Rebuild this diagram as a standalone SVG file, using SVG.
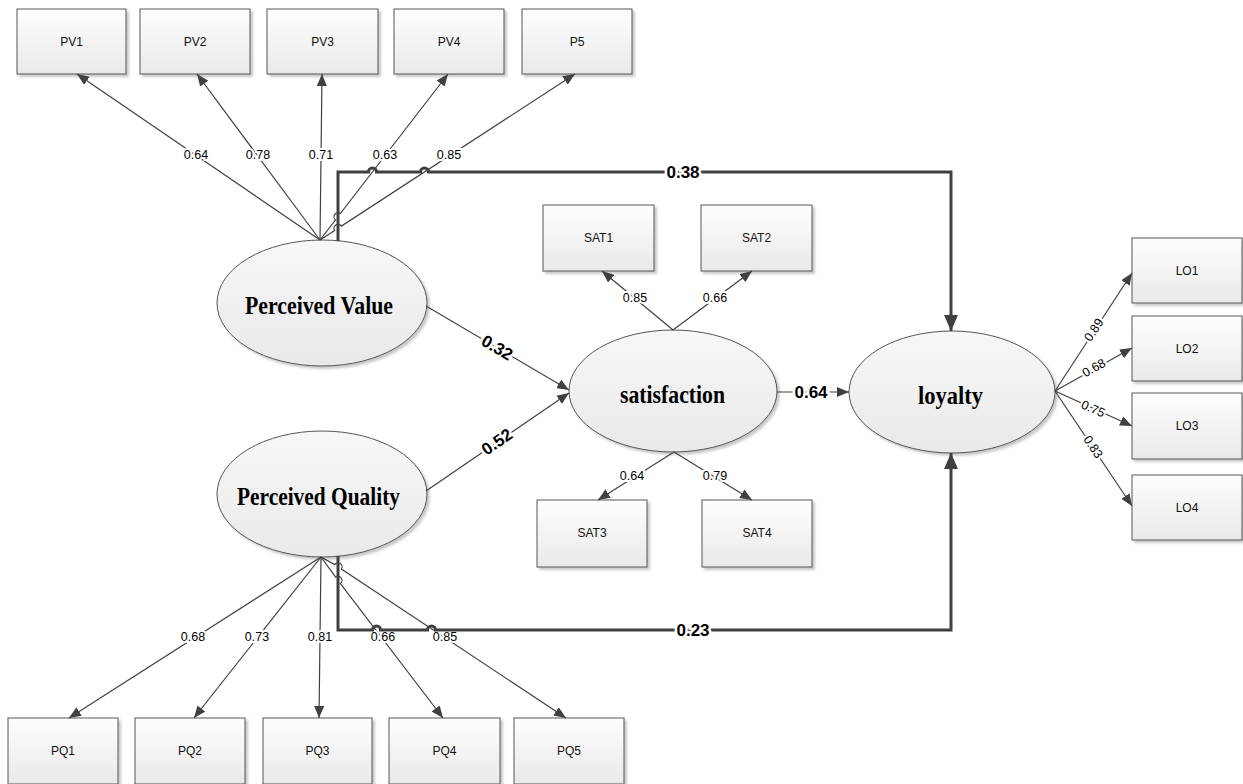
<svg xmlns="http://www.w3.org/2000/svg" width="1243" height="784" viewBox="0 0 1243 784">
<defs>
<linearGradient id="gb" x1="0" y1="0" x2="0" y2="1"><stop offset="0" stop-color="#fefefe"/><stop offset="1" stop-color="#e9e9e9"/></linearGradient>
<linearGradient id="ge" x1="0" y1="0" x2="0" y2="1"><stop offset="0" stop-color="#f7f7f7"/><stop offset="1" stop-color="#e9e9e9"/></linearGradient>
<filter id="sh" x="-10%" y="-10%" width="130%" height="130%"><feDropShadow dx="2.5" dy="2.5" stdDeviation="1" flood-color="#888" flood-opacity="0.45"/></filter>
<marker id="a" viewBox="0 0 12 10" markerWidth="12" markerHeight="10" refX="12" refY="5" orient="auto" markerUnits="userSpaceOnUse"><path d="M0,0 L12,5 L0,10 z" fill="#404040"/></marker>
<marker id="A" viewBox="0 0 16 14" markerWidth="16" markerHeight="14" refX="16" refY="7" orient="auto" markerUnits="userSpaceOnUse"><path d="M0,0 L16,7 L0,14 z" fill="#404040"/></marker>
</defs>
<style>
.box{fill:url(#gb);stroke:#555;stroke-width:1;filter:url(#sh)}
.ell{fill:url(#ge);stroke:#555;stroke-width:1;filter:url(#sh)}
.bt{font-family:"Liberation Sans",Arial,sans-serif;font-size:12px;fill:#111;text-anchor:middle;dominant-baseline:central}
.et{font-family:"Liberation Serif","Times New Roman",serif;font-weight:bold;font-size:25px;fill:#000;text-anchor:middle;dominant-baseline:central}
.ln{fill:none;stroke:#404040;stroke-width:1.2}
.tk{fill:none;stroke:#404040;stroke-width:3}
.lb{font-family:"Liberation Sans",Arial,sans-serif;font-size:12.5px;fill:#000;text-anchor:middle;dominant-baseline:central;stroke:#fff;stroke-width:4;paint-order:stroke}
.bl{font-family:"Liberation Sans",Arial,sans-serif;font-size:17px;font-weight:bold;fill:#000;text-anchor:middle;dominant-baseline:central;stroke:#fff;stroke-width:5;paint-order:stroke}
</style>
<rect width="1243" height="784" fill="#fff"/>

<g id="PV1"><rect class="box" x="17" y="9" width="109" height="65"/><text class="bt" x="71.5" y="41.5">PV1</text></g>
<g id="PV2"><rect class="box" x="140" y="9" width="110" height="65"/><text class="bt" x="195" y="41.5">PV2</text></g>
<g id="PV3"><rect class="box" x="267" y="9" width="111" height="65"/><text class="bt" x="322.5" y="41.5">PV3</text></g>
<g id="PV4"><rect class="box" x="394" y="9" width="110" height="65"/><text class="bt" x="449" y="41.5">PV4</text></g>
<g id="P5"><rect class="box" x="522" y="9" width="110" height="65"/><text class="bt" x="577" y="41.5">P5</text></g>

<g id="SAT1"><rect class="box" x="543" y="205" width="111" height="66"/><text class="bt" x="598.5" y="238">SAT1</text></g>
<g id="SAT2"><rect class="box" x="701" y="205" width="111" height="66"/><text class="bt" x="756.5" y="238">SAT2</text></g>
<g id="SAT3"><rect class="box" x="537" y="500" width="110" height="67"/><text class="bt" x="592" y="533">SAT3</text></g>
<g id="SAT4"><rect class="box" x="702" y="500" width="110" height="67"/><text class="bt" x="757" y="533">SAT4</text></g>

<g id="LO1"><rect class="box" x="1132" y="238" width="110" height="65"/><text class="bt" x="1187" y="270.5">LO1</text></g>
<g id="LO2"><rect class="box" x="1132" y="316" width="110" height="65"/><text class="bt" x="1187" y="348.5">LO2</text></g>
<g id="LO3"><rect class="box" x="1132" y="393" width="110" height="66"/><text class="bt" x="1187" y="426">LO3</text></g>
<g id="LO4"><rect class="box" x="1132" y="475" width="110" height="65"/><text class="bt" x="1187" y="507.5">LO4</text></g>

<g id="PQ1"><rect class="box" x="8" y="718" width="110" height="66"/><text class="bt" x="63" y="751">PQ1</text></g>
<g id="PQ2"><rect class="box" x="135" y="718" width="110" height="66"/><text class="bt" x="190" y="751">PQ2</text></g>
<g id="PQ3"><rect class="box" x="263" y="718" width="109" height="66"/><text class="bt" x="317.5" y="751">PQ3</text></g>
<g id="PQ4"><rect class="box" x="389" y="718" width="111" height="66"/><text class="bt" x="444.5" y="751">PQ4</text></g>
<g id="PQ5"><rect class="box" x="514" y="718" width="110" height="66"/><text class="bt" x="569" y="751">PQ5</text></g>

<g id="PerceivedValue"><ellipse class="ell" cx="322" cy="303" rx="105" ry="63"/><text class="et" x="319" y="305" textLength="148" lengthAdjust="spacingAndGlyphs">Perceived Value</text></g>
<g id="PerceivedQuality"><ellipse class="ell" cx="322" cy="494" rx="105" ry="63"/><text class="et" x="318.5" y="496" textLength="163" lengthAdjust="spacingAndGlyphs">Perceived Quality</text></g>
<g id="satisfaction"><ellipse class="ell" cx="673" cy="391" rx="104" ry="61"/><text class="et" x="672.5" y="394" textLength="105" lengthAdjust="spacingAndGlyphs">satisfaction</text></g>
<g id="loyalty"><ellipse class="ell" cx="952" cy="392" rx="103" ry="61"/><text class="et" x="950.5" y="395" textLength="65" lengthAdjust="spacingAndGlyphs">loyalty</text></g>

<g id="connectors">
<path class="ln" d="M320,240 L77,74" marker-end="url(#a)"/>
<path class="ln" d="M320,240 L197,74" marker-end="url(#a)"/>
<path class="ln" d="M320,240 L322,74" marker-end="url(#a)"/>
<path class="ln" d="M320,240 L335.6,219.9 A4,4 0 0 1 340.4,213.5 L448,74" marker-end="url(#a)"/>
<path class="ln" d="M320,240 L334.6,230.5 A4,4 0 0 1 341.4,226.1 L575,74" marker-end="url(#a)"/>
<text class="lb" x="196" y="155">0.64</text>
<text class="lb" x="258" y="155">0.78</text>
<text class="lb" x="321" y="155">0.71</text>
<text class="lb" x="385" y="155">0.63</text>
<text class="lb" x="449" y="155">0.85</text>

<path class="ln" d="M321,557 L69,718" marker-end="url(#a)"/>
<path class="ln" d="M321,557 L194,718" marker-end="url(#a)"/>
<path class="ln" d="M321,557 L319,718" marker-end="url(#a)"/>
<path class="ln" d="M321,557 L335.6,577.2 A4,4 0 0 1 340.4,583.6 L443,718" marker-end="url(#a)"/>
<path class="ln" d="M321,557 L334.6,564.6 A4,4 0 0 1 341.4,569.0 L566,718" marker-end="url(#a)"/>
<text class="lb" x="193" y="637">0.68</text>
<text class="lb" x="257" y="637">0.73</text>
<text class="lb" x="320" y="637">0.81</text>
<text class="lb" x="383" y="637">0.66</text>
<text class="lb" x="445" y="637">0.85</text>

<path class="tk" d="M338,241 V172 H368.5 A4,4 0 0 1 376.5,172 H420.5 A4,4 0 0 1 428.5,172 H951 V331" marker-end="url(#A)"/>
<text class="bl" x="683" y="172">0.38</text>
<path class="tk" d="M338,556 V630 H372.5 A4,4 0 0 1 380.5,630 H427.5 A4,4 0 0 1 435.5,630 H951 V453" marker-end="url(#A)"/>
<text class="bl" x="693" y="630">0.23</text>

<path class="ln" d="M426,306 L569,390" marker-end="url(#a)"/>
<text class="bl" x="497" y="348" transform="rotate(30.4 497 348)">0.32</text>
<path class="ln" d="M426,491 L569,393" marker-end="url(#a)"/>
<text class="bl" x="497" y="442" transform="rotate(-34.4 497 442)">0.52</text>
<path class="ln" d="M777,392 L849,392" marker-end="url(#a)"/>
<text class="bl" x="811" y="392">0.64</text>

<path class="ln" d="M673,330 L602,271" marker-end="url(#a)"/>
<path class="ln" d="M673,330 L752,271" marker-end="url(#a)"/>
<path class="ln" d="M674,452 L598,500" marker-end="url(#a)"/>
<path class="ln" d="M674,452 L752,500" marker-end="url(#a)"/>
<text class="lb" x="635" y="298">0.85</text>
<text class="lb" x="715" y="298">0.66</text>
<text class="lb" x="632" y="476">0.64</text>
<text class="lb" x="715" y="476">0.79</text>

<path class="ln" d="M1055,391 L1132,273" marker-end="url(#a)"/>
<path class="ln" d="M1055,391 L1132,348" marker-end="url(#a)"/>
<path class="ln" d="M1055,391 L1132,426" marker-end="url(#a)"/>
<path class="ln" d="M1055,391 L1132,506" marker-end="url(#a)"/>
<text class="lb" x="1094" y="330" transform="rotate(-56.5 1094 330)">0.89</text>
<text class="lb" x="1094" y="368" transform="rotate(-29 1094 368)">0.68</text>
<text class="lb" x="1093" y="409" transform="rotate(24 1093 409)">0.75</text>
<text class="lb" x="1093" y="447" transform="rotate(56 1093 447)">0.83</text>
</g>
</svg>
